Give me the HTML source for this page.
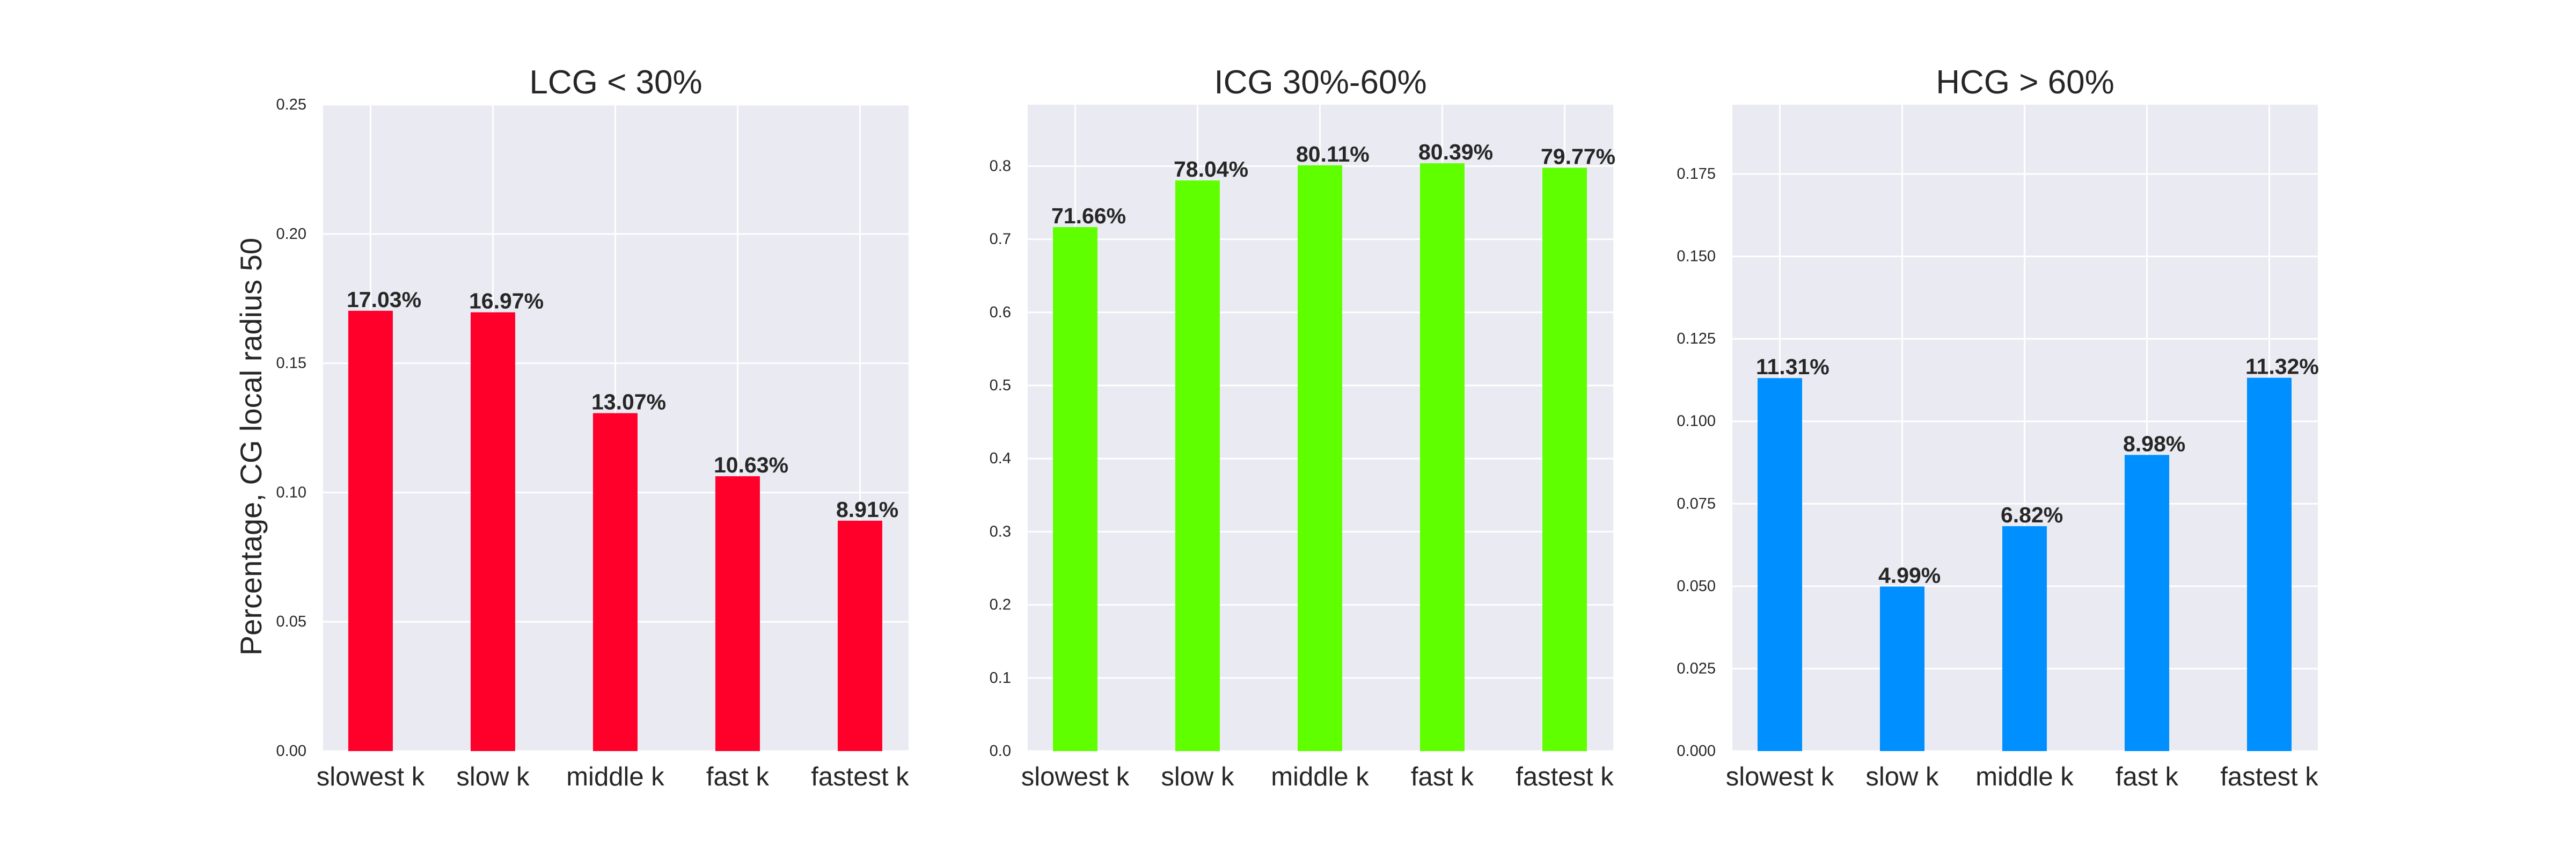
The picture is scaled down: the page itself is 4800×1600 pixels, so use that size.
<!DOCTYPE html>
<html><head><meta charset="utf-8"><style>
html,body{margin:0;padding:0;background:#fff;}
svg{display:block;font-family:"Liberation Sans",Arial,sans-serif;}
</style></head><body>
<svg id="chart" width="4800" height="1600" viewBox="0 0 4800 1600" xmlns="http://www.w3.org/2000/svg"></svg>
<script>
const categories = ["slowest k","slow k","middle k","fast k","fastest k"];
const lcgValues = [0.1703,0.1697,0.1307,0.1063,0.0891];
const icgValues = [0.7166,0.7804,0.8011,0.8039,0.7977];
const hcgValues = [0.1131,0.0499,0.0682,0.0898,0.1132];
const lcgTicks = [0,0.05,0.10,0.15,0.20,0.25];
const lcgTickLabels = ["0.00","0.05","0.10","0.15","0.20","0.25"];
const icgTicks = [0,0.1,0.2,0.3,0.4,0.5,0.6,0.7,0.8];
const icgTickLabels = ["0.0","0.1","0.2","0.3","0.4","0.5","0.6","0.7","0.8"];
const hcgTicks = [0,0.025,0.05,0.075,0.1,0.125,0.15,0.175];
const hcgTickLabels = ["0.000","0.025","0.050","0.075","0.100","0.125","0.150","0.175"];

const NS="http://www.w3.org/2000/svg";
const svg=document.getElementById('chart');
function mk(tag,attrs,parent){const e=document.createElementNS(NS,tag);for(const k in attrs)e.setAttribute(k,attrs[k]);(parent||svg).appendChild(e);return e;}

const panels=[
 {key:'lcg',title:'LCG < 30%',left:602,vals:lcgValues,ticks:lcgTicks,labels:lcgTickLabels,ymax:0.25,color:'#ff002b'},
 {key:'icg',title:'ICG 30%-60%',left:1915,vals:icgValues,ticks:icgTicks,labels:icgTickLabels,ymax:0.884,color:'#5fff00'},
 {key:'hcg',title:'HCG > 60%',left:3228,vals:hcgValues,ticks:hcgTicks,labels:hcgTickLabels,ymax:0.196,color:'#008fff'}
];
const TOP=195,BOT=1399,W=1091,XMIN=-0.388,XMAX=4.397,BW=0.364;

panels.forEach(p=>{
  const g=mk('g',{});
  
  
  const xs=v=>p.left+(v-XMIN)/(XMAX-XMIN)*W;
  const ys=v=>BOT-(v/p.ymax)*(BOT-TOP);
  const bg=mk('rect',{x:p.left,y:TOP,width:W,height:BOT-TOP,fill:'#eaeaf2'},g);
  
  
  p.ticks.forEach((t,i)=>{
    const y=ys(t);
    const gl=mk('line',{x1:p.left,x2:p.left+W,y1:y,y2:y,stroke:'#fff','stroke-width':3},g);
    
    
    const tl=mk('text',{x:p.left-31,y:y+9,'text-anchor':'end','font-size':29,fill:'#262626'},g);
    
    
    tl.textContent=p.labels[i];
  });
  categories.forEach((c,i)=>{
    const x=xs(i);
    const gl=mk('line',{x1:x,x2:x,y1:TOP,y2:BOT,stroke:'#fff','stroke-width':3},g);
    
    
    const tl=mk('text',{x:x,y:1463,'text-anchor':'middle','font-size':49,fill:'#262626'},g);
    
    
    tl.textContent=c;
  });
  p.vals.forEach((v,i)=>{
    const x0=xs(i-BW/2),x1=xs(i+BW/2),y=ys(v);
    const b=mk('rect',{x:x0,y:y,width:x1-x0,height:BOT-y,fill:p.color},g);
    
    
    const t=mk('text',{x:x0-3,y:y-7,'font-size':41,'font-weight':'bold',fill:'#262626'},g);
    
    
    t.textContent=(v*100).toFixed(2)+'%';
  });
  const tt=mk('text',{x:p.left+W/2,y:174,'text-anchor':'middle','font-size':62,fill:'#262626'},g);
  
  
  tt.textContent=p.title;
});
const yl=mk('text',{x:0,y:0,'text-anchor':'middle','font-size':56,fill:'#262626',transform:'translate(487,832) rotate(-90)'});


yl.textContent='Percentage, CG local radius 50';
</script>
</body></html>
